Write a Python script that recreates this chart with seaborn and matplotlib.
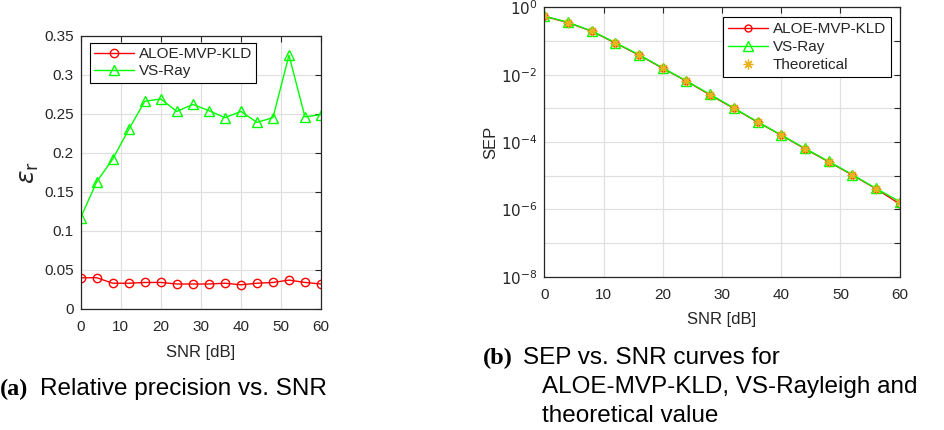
import numpy as np
import pandas as pd
import matplotlib
matplotlib.use("Agg")
import matplotlib.pyplot as plt
import seaborn as sns

snr = [0, 4, 8, 12, 16, 20, 24, 28, 32, 36, 40, 44, 48, 52, 56, 60]
eps_aloe = [0.040, 0.040, 0.033, 0.033, 0.034, 0.034, 0.032, 0.032, 0.032, 0.033, 0.031, 0.033, 0.034, 0.037, 0.034, 0.032]
eps_vs = [0.117, 0.163, 0.192, 0.230, 0.266, 0.269, 0.253, 0.262, 0.254, 0.245, 0.253, 0.239, 0.245, 0.325, 0.246, 0.249]

sep_theory = [0.54, 0.35, 0.195, 0.087, 0.038, 0.0155, 0.0064, 0.0025, 1.0e-3, 3.9e-4, 1.6e-4, 6.3e-5, 2.6e-5, 1.05e-5, 4.1e-6, 1.6e-6]
sep_aloe = [0.54, 0.35, 0.195, 0.087, 0.038, 0.0155, 0.0064, 0.0025, 1.0e-3, 3.9e-4, 1.6e-4, 6.3e-5, 2.6e-5, 1.05e-5, 4.1e-6, 1.45e-6]
sep_vs = [0.55, 0.36, 0.198, 0.089, 0.039, 0.0158, 0.0065, 0.0026, 1.02e-3, 4.0e-4, 1.62e-4, 6.5e-5, 2.65e-5, 1.08e-5, 4.2e-6, 1.7e-6]

sns.set_theme(style="white")
plt.rcParams['font.family'] = ['Liberation Sans', 'DejaVu Sans']

fig = plt.figure(figsize=(9.45, 4.3), dpi=100)
ax1 = fig.add_axes([0.0854, 0.2814, 0.3397 - 0.0854, 0.917 - 0.2814])
ax2 = fig.add_axes([0.576, 0.3565, 0.952 - 0.576, 0.983 - 0.3565])

axcol = (0.15, 0.15, 0.15)
orange = (0.929, 0.694, 0.125)

# Left plot
sns.lineplot(x=snr, y=eps_aloe, ax=ax1, color='red', lw=1.0, marker='o', markersize=6,
             markerfacecolor='none', markeredgecolor='red', markeredgewidth=1.0, label='ALOE-MVP-KLD')
sns.lineplot(x=snr, y=eps_vs, ax=ax1, color=(0, 1, 0), lw=1.0, marker='^', markersize=7,
             markerfacecolor='none', markeredgecolor=(0, 1, 0), markeredgewidth=1.0, label='VS-Ray')
ax1.set_xlim(0, 60)
ax1.set_ylim(0, 0.35)
ax1.set_xticks(range(0, 61, 10))
ax1.set_yticks(np.arange(0, 0.351, 0.05))
ax1.set_yticklabels(['0', '0.05', '0.1', '0.15', '0.2', '0.25', '0.3', '0.35'])
ax1.set_xlabel('SNR [dB]', fontsize=12, color=axcol, labelpad=8)
ax1.set_ylabel(r'$\epsilon_\mathsf{r}$', fontsize=18, color=axcol, labelpad=2)
leg1 = ax1.legend(loc='upper left', bbox_to_anchor=(0.025, 0.985), fontsize=11, frameon=True, fancybox=False,
                  edgecolor='black', framealpha=1, borderpad=0.3, handlelength=2.6, handletextpad=0.3,
                  labelspacing=0.2, borderaxespad=0.2)
leg1.get_frame().set_linewidth(0.8)

# Right plot
sns.lineplot(x=snr, y=sep_aloe, ax=ax2, color='red', lw=1.0, marker='o', markersize=5,
             markerfacecolor='none', markeredgecolor='red', markeredgewidth=1.0, label='ALOE-MVP-KLD')
sns.lineplot(x=snr, y=sep_vs, ax=ax2, color=(0, 1, 0), lw=1.0, marker='^', markersize=7,
             markerfacecolor='none', markeredgecolor=(0, 1, 0), markeredgewidth=1.0, label='VS-Ray')
sns.lineplot(x=snr, y=sep_theory, ax=ax2, color=orange, linestyle='', marker=(8, 2, 0), markersize=7,
             markeredgecolor=orange, markeredgewidth=0.9, label='Theoretical')
ax2.set_yscale('log')
ax2.set_xlim(0, 60)
ax2.set_ylim(1e-8, 1)
ax2.set_xticks(range(0, 61, 10))
decades = [10.0 ** k for k in range(-8, 1)]
ax2.set_yticks(decades)
ax2.set_yticklabels([(r'$10^{%d}$' % k if k % 2 == 0 else '') for k in range(-8, 1)])
ax2.yaxis.set_minor_locator(matplotlib.ticker.NullLocator())
ax2.set_xlabel('SNR [dB]', fontsize=12, color=axcol, labelpad=7)
ax2.set_ylabel('SEP', fontsize=12, color=axcol, labelpad=2)
leg2 = ax2.legend(loc='upper right', bbox_to_anchor=(0.985, 0.975), fontsize=11, frameon=True, fancybox=False,
                  edgecolor='black', framealpha=1, borderpad=0.35, handlelength=2.6, handletextpad=0.3,
                  labelspacing=0.25, borderaxespad=0.2)
leg2.get_frame().set_linewidth(0.8)

for ax in (ax1, ax2):
    ax.grid(True, color=(0.88, 0.88, 0.88), lw=0.9)
    ax.set_axisbelow(True)
    for s in ax.spines.values():
        s.set_color(axcol)
        s.set_linewidth(0.9)
        s.set_visible(True)
    ax.tick_params(axis='both', which='both', direction='in', labelsize=11, colors=axcol,
                   length=4, width=0.8, top=True, right=True, pad=5)
    ax.tick_params(axis='x', pad=8)
    ax.tick_params(axis='both', labelcolor=axcol)

# Captions
capfont = ['Liberation Sans', 'DejaVu Sans']
boldfont = ['Liberation Serif', 'DejaVu Serif']
cs = 17.5

def ypos(py):
    return 1 - py / 430

fig.text(0.0, ypos(395), '(a)', fontsize=cs, fontweight='bold', family=boldfont, va='baseline', ha='left', color='black')
fig.text(40 / 945, ypos(395), 'Relative precision vs. SNR', fontsize=cs, family=capfont, va='baseline', ha='left', color='black')
fig.text(483 / 945, ypos(364), '(b)', fontsize=cs, fontweight='bold', family=boldfont, va='baseline', ha='left', color='black')
fig.text(523 / 945, ypos(364), 'SEP vs. SNR curves for', fontsize=cs, family=capfont, va='baseline', ha='left', color='black')
fig.text(542 / 945, ypos(393), 'ALOE-MVP-KLD, VS-Rayleigh and', fontsize=cs, family=capfont, va='baseline', ha='left', color='black')
fig.text(542 / 945, ypos(422), 'theoretical value', fontsize=cs, family=capfont, va='baseline', ha='left', color='black')

fig.savefig('out.png', dpi=100)
